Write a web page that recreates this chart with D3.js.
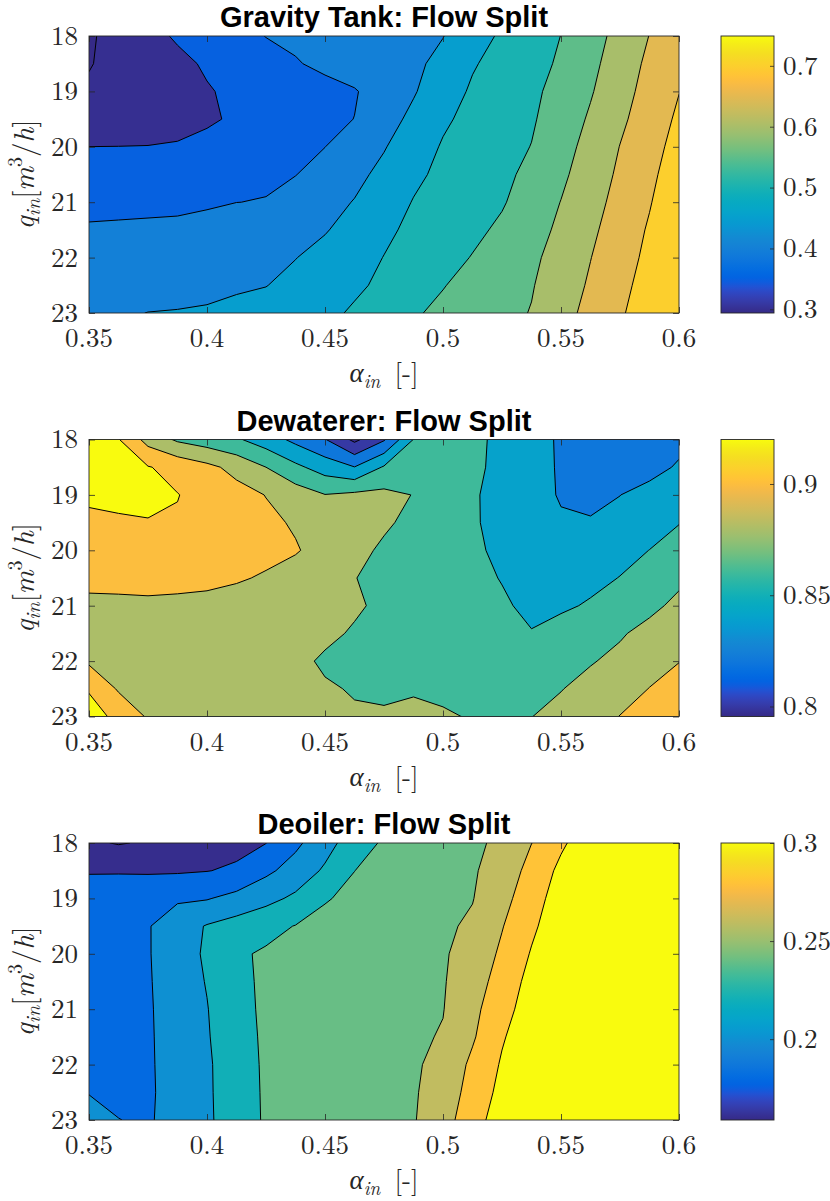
<!DOCTYPE html>
<html>
<head>
<meta charset="utf-8">
<script src="https://cdn.jsdelivr.net/npm/d3@7"></script>
<style>
  body { margin: 0; background: #fff; }
  svg { display: block; }
  .tex { font-family: "Latin Modern Roman", "Liberation Serif", serif; }
  .sans { font-family: "Liberation Sans", Arial, Helvetica, sans-serif; }
</style>
</head>
<body>
<svg id="fig" width="830" height="1201"></svg>
<script>
// ---- grid coordinates ----
const alphaIn = [0.35, 0.3625, 0.375, 0.3875, 0.4, 0.4125, 0.425, 0.4375, 0.45, 0.4625, 0.475,
                 0.4875, 0.5, 0.5125, 0.525, 0.5375, 0.55, 0.5625, 0.575, 0.5875, 0.6];
const qIn = [18, 18.5, 19, 19.5, 20, 20.5, 21, 21.5, 22, 22.5, 23];
const xTicks = [0.35, 0.4, 0.45, 0.5, 0.55, 0.6];
const yTicks = [18, 19, 20, 21, 22, 23];

// ---- Gravity tank flow split (rows follow qIn, columns follow alphaIn) ----
const gravitySplit = [
  [0.294,0.317,0.337,0.355,0.370,0.385,0.401,0.408,0.417,0.425,0.433,0.441,0.449,0.479,0.507,0.528,0.5505,0.581,0.615,0.651,0.688],
  [0.298,0.311,0.325,0.340,0.355,0.369,0.383,0.397,0.409,0.420,0.431,0.442,0.461,0.496,0.516,0.535,0.556,0.588,0.624,0.660,0.697],
  [0.305,0.316,0.326,0.337,0.347,0.358,0.367,0.377,0.387,0.397,0.419,0.446,0.478,0.506,0.523,0.541,0.565,0.596,0.632,0.667,0.699],
  [0.315,0.323,0.330,0.338,0.345,0.355,0.367,0.378,0.390,0.4005,0.431,0.461,0.493,0.513,0.529,0.545,0.573,0.606,0.641,0.674,0.708],
  [0.3502,0.3505,0.351,0.353,0.360,0.370,0.380,0.390,0.3996,0.423,0.447,0.477,0.504,0.519,0.535,0.551,0.583,0.615,0.651,0.682,0.717],
  [0.375,0.378,0.382,0.385,0.389,0.392,0.396,0.399,0.417,0.438,0.462,0.491,0.510,0.525,0.540,0.561,0.591,0.624,0.658,0.690,0.725],
  [0.390,0.391,0.392,0.394,0.397,0.3998,0.401,0.418,0.435,0.452,0.478,0.502,0.517,0.532,0.546,0.572,0.601,0.633,0.665,0.697,0.734],
  [0.404,0.405,0.406,0.406,0.408,0.418,0.428,0.438,0.447,0.467,0.491,0.510,0.525,0.540,0.558,0.582,0.609,0.641,0.673,0.705,0.738],
  [0.418,0.422,0.427,0.431,0.436,0.440,0.445,0.449,0.464,0.482,0.501,0.518,0.534,0.552,0.571,0.591,0.618,0.649,0.680,0.711,0.743],
  [0.430,0.433,0.436,0.440,0.443,0.446,0.449,0.462,0.477,0.492,0.509,0.529,0.548,0.565,0.581,0.597,0.625,0.656,0.688,0.717,0.746],
  [0.442,0.446,0.4505,0.4515,0.453,0.458,0.466,0.477,0.489,0.506,0.525,0.545,0.560,0.574,0.587,0.602,0.633,0.664,0.695,0.722,0.749]
];
const gravityLevels = [0.30, 0.35, 0.40, 0.45, 0.50, 0.55, 0.60, 0.65, 0.70];
const gravityCLim = [0.294, 0.749];
const gravityCbarTicks = [0.3, 0.4, 0.5, 0.6, 0.7];

// ---- Dewaterer flow split ----
const dewatererSplit = [
  [0.930,0.921,0.893,0.877,0.870,0.8625,0.850,0.835,0.821,0.7955,0.818,0.8605,0.865,0.864,0.856,0.846,0.838,0.834,0.832,0.832,0.835],
  [0.928,0.925,0.921,0.914,0.905,0.894,0.880,0.8644,0.851,0.8405,0.862,0.869,0.868,0.864,0.855,0.847,0.838,0.832,0.828,0.834,0.842],
  [0.930,0.928,0.925,0.9205,0.914,0.907,0.8995,0.890,0.8805,0.884,0.885,0.8795,0.870,0.862,0.854,0.847,0.8385,0.832,0.8398,0.846,0.851],
  [0.908,0.916,0.919,0.9185,0.912,0.908,0.904,0.898,0.893,0.8875,0.8823,0.876,0.869,0.8618,0.855,0.848,0.842,0.8425,0.845,0.852,0.8595],
  [0.908,0.909,0.910,0.910,0.908,0.906,0.904,0.9015,0.893,0.8845,0.8775,0.8725,0.8675,0.8625,0.857,0.851,0.848,0.8495,0.854,0.8602,0.866],
  [0.903,0.9035,0.9045,0.904,0.903,0.9015,0.8985,0.8922,0.8863,0.8804,0.8755,0.8705,0.8665,0.863,0.8595,0.854,0.852,0.855,0.8605,0.867,0.877],
  [0.8975,0.8975,0.8975,0.897,0.8965,0.894,0.892,0.889,0.886,0.882,0.877,0.8725,0.868,0.8645,0.8615,0.8575,0.857,0.862,0.8695,0.8765,0.8835],
  [0.892,0.8925,0.893,0.8925,0.892,0.891,0.889,0.886,0.883,0.8785,0.875,0.872,0.869,0.864,0.862,0.8605,0.8675,0.8725,0.8785,0.8845,0.890],
  [0.897,0.8945,0.8925,0.891,0.889,0.887,0.885,0.8835,0.878,0.8745,0.872,0.8705,0.870,0.870,0.8705,0.8725,0.8755,0.879,0.8835,0.8915,0.8995],
  [0.918,0.898,0.895,0.892,0.890,0.888,0.886,0.884,0.8815,0.879,0.8785,0.8795,0.8785,0.8755,0.8745,0.8765,0.8795,0.8845,0.891,0.9005,0.908],
  [0.930,0.914,0.898,0.895,0.893,0.891,0.889,0.887,0.885,0.8815,0.881,0.8812,0.8808,0.8795,0.8775,0.8798,0.884,0.891,0.9005,0.906,0.912]
];
const dewatererLevels = [0.80, 0.82, 0.84, 0.86, 0.88, 0.90, 0.92];
const dewatererCLim = [0.7955, 0.92];
const dewatererCbarTicks = [0.8, 0.85, 0.9];

// ---- Deoiler flow split ----
const deoilerSplit = [
  [0.163,0.1588,0.162,0.166,0.170,0.175,0.1797,0.196,0.2123,0.2307,0.2425,0.2471,0.2518,0.2565,0.2638,0.2798,0.2968,0.312,0.318,0.320,0.320],
  [0.1785,0.1785,0.178,0.178,0.1795,0.1825,0.196,0.2079,0.2229,0.2399,0.2444,0.2489,0.2534,0.2579,0.2687,0.2861,0.3046,0.312,0.318,0.320,0.320],
  [0.190,0.191,0.193,0.1975,0.1988,0.206,0.2142,0.2237,0.239,0.2431,0.2471,0.2512,0.2552,0.2593,0.2736,0.2914,0.3094,0.315,0.318,0.320,0.320],
  [0.192,0.1945,0.1988,0.2106,0.2213,0.228,0.2345,0.2406,0.2439,0.2472,0.2505,0.2539,0.2572,0.2627,0.279,0.2965,0.312,0.316,0.320,0.320,0.320],
  [0.193,0.195,0.1988,0.2104,0.2229,0.2375,0.2422,0.2449,0.2476,0.2503,0.253,0.2557,0.2583,0.2665,0.2835,0.3014,0.312,0.316,0.320,0.320,0.320],
  [0.193,0.195,0.1985,0.209,0.2211,0.2367,0.2422,0.245,0.2477,0.2505,0.2532,0.256,0.2587,0.2703,0.2885,0.306,0.314,0.318,0.320,0.320,0.320],
  [0.193,0.195,0.1983,0.2075,0.2192,0.2359,0.2422,0.245,0.2479,0.2508,0.2536,0.2565,0.2594,0.2747,0.2932,0.309,0.315,0.318,0.320,0.320,0.320],
  [0.193,0.195,0.1982,0.2067,0.2182,0.2347,0.2421,0.2451,0.2481,0.2511,0.2542,0.2572,0.2612,0.2777,0.2982,0.312,0.316,0.318,0.320,0.320,0.320],
  [0.196,0.196,0.1982,0.2059,0.2168,0.2334,0.242,0.2451,0.2483,0.2514,0.2546,0.2577,0.2653,0.2841,0.302,0.310,0.316,0.318,0.320,0.320,0.320],
  [0.1995,0.1975,0.198,0.2057,0.2167,0.2326,0.2419,0.2452,0.2484,0.2517,0.2549,0.2582,0.2686,0.2874,0.3055,0.312,0.316,0.318,0.320,0.320,0.320],
  [0.205,0.2002,0.1985,0.2055,0.2164,0.2319,0.2418,0.2452,0.2485,0.2519,0.2553,0.2587,0.272,0.2917,0.310,0.314,0.317,0.319,0.320,0.320,0.320]
];
const deoilerLevels = [0.16, 0.18, 0.20, 0.22, 0.24, 0.26, 0.28, 0.30];
const deoilerCLim = [0.1588, 0.30];
const deoilerCbarTicks = [0.2, 0.25, 0.3];

const panelTitles = ["Gravity Tank: Flow Split", "Dewaterer: Flow Split", "Deoiler: Flow Split"];

// ---- parula colour map ----
const parulaRGB = [
  [0.2081,0.1663,0.5292],[0.2116,0.1898,0.5777],[0.2123,0.2138,0.6270],[0.2081,0.2386,0.6771],
  [0.1959,0.2645,0.7279],[0.1707,0.2919,0.7792],[0.1253,0.3242,0.8303],[0.0591,0.3598,0.8683],
  [0.0117,0.3875,0.8820],[0.0060,0.4086,0.8828],[0.0165,0.4266,0.8786],[0.0329,0.4430,0.8720],
  [0.0498,0.4586,0.8641],[0.0629,0.4737,0.8554],[0.0723,0.4887,0.8467],[0.0779,0.5040,0.8384],
  [0.0793,0.5200,0.8312],[0.0749,0.5375,0.8263],[0.0641,0.5570,0.8240],[0.0488,0.5772,0.8228],
  [0.0343,0.5966,0.8199],[0.0265,0.6137,0.8135],[0.0239,0.6287,0.8038],[0.0231,0.6418,0.7913],
  [0.0228,0.6535,0.7768],[0.0267,0.6642,0.7607],[0.0384,0.6743,0.7436],[0.0590,0.6838,0.7254],
  [0.0843,0.6928,0.7062],[0.1133,0.7015,0.6859],[0.1453,0.7098,0.6646],[0.1801,0.7177,0.6424],
  [0.2178,0.7250,0.6193],[0.2586,0.7317,0.5954],[0.3022,0.7376,0.5712],[0.3482,0.7424,0.5473],
  [0.3953,0.7459,0.5244],[0.4420,0.7481,0.5033],[0.4871,0.7491,0.4840],[0.5300,0.7491,0.4661],
  [0.5709,0.7485,0.4494],[0.6099,0.7473,0.4337],[0.6473,0.7456,0.4188],[0.6834,0.7435,0.4044],
  [0.7184,0.7411,0.3905],[0.7525,0.7384,0.3768],[0.7858,0.7356,0.3633],[0.8185,0.7327,0.3498],
  [0.8507,0.7299,0.3360],[0.8824,0.7274,0.3217],[0.9139,0.7258,0.3063],[0.9450,0.7261,0.2886],
  [0.9739,0.7314,0.2666],[0.9938,0.7455,0.2403],[0.9990,0.7653,0.2164],[0.9955,0.7861,0.1967],
  [0.9880,0.8066,0.1794],[0.9789,0.8271,0.1633],[0.9697,0.8481,0.1475],[0.9626,0.8705,0.1309],
  [0.9589,0.8949,0.1132],[0.9598,0.9218,0.0948],[0.9661,0.9514,0.0755],[0.9763,0.9831,0.0538]
];
const parulaHex = parulaRGB.map(c => d3.rgb(c[0] * 255, c[1] * 255, c[2] * 255).formatHex());
const parula = d3.piecewise(d3.interpolateRgb, parulaHex);

// ---- layout ----
const plotLeft = 89, plotWidth = 590, plotHeight = 277;
const panelTops = [36, 439.5, 843];
const cbarLeft = 721, cbarWidth = 53;
const axisInk = "#262626";
const labelSize = 27;

const panels = [
  { values: gravitySplit, levels: gravityLevels, clim: gravityCLim, cticks: gravityCbarTicks },
  { values: dewatererSplit, levels: dewatererLevels, clim: dewatererCLim, cticks: dewatererCbarTicks },
  { values: deoilerSplit, levels: deoilerLevels, clim: deoilerCLim, cticks: deoilerCbarTicks }
];

const svg = d3.select("#fig");
const defs = svg.append("defs");

panels.forEach((p, i) => {
  const top = panelTops[i];
  const nx = alphaIn.length, ny = qIn.length;
  const x = d3.scaleLinear().domain([alphaIn[0], alphaIn[nx - 1]]).range([0, plotWidth]);
  const y = d3.scaleLinear().domain([qIn[0], qIn[ny - 1]]).range([0, plotHeight]);
  // grid-index space of d3.contours -> plot space (value i sits at i + 0.5)
  const gx = d3.scaleLinear().domain([0.5, nx - 0.5]).range([x(alphaIn[0]), x(alphaIn[nx - 1])]);
  const gy = d3.scaleLinear().domain([0.5, ny - 0.5]).range([y(qIn[0]), y(qIn[ny - 1])]);
  const path = d3.geoPath(d3.geoTransform({
    point(px, py) { this.stream.point(gx(px), gy(py)); }
  }));
  const norm = d3.scaleLinear().domain(p.clim).range([0, 1]).clamp(true);
  const colour = v => parula(norm(v));

  const bands = d3.contours().size([nx, ny]).thresholds(p.levels)(p.values.flat());

  const g = svg.append("g").attr("transform", `translate(${plotLeft},${top})`);

  defs.append("clipPath").attr("id", `plot-clip-${i}`)
    .append("rect").attr("width", plotWidth).attr("height", plotHeight);

  const body = g.append("g").attr("clip-path", `url(#plot-clip-${i})`);
  body.append("rect").attr("width", plotWidth).attr("height", plotHeight)
    .attr("fill", colour(p.clim[0]));
  body.selectAll("path.band").data(bands).join("path")
    .attr("class", "band")
    .attr("d", path)
    .attr("fill", d => colour(d.value));
  body.selectAll("path.iso").data(bands).join("path")
    .attr("class", "iso")
    .attr("d", path)
    .attr("fill", "none")
    .attr("stroke", "#000")
    .attr("stroke-width", 1)
    .attr("stroke-linejoin", "round");

  // ticks on all four sides, pointing inward
  const tickStyle = sel => {
    sel.select(".domain").remove();
    sel.selectAll(".tick line").attr("stroke", axisInk).attr("stroke-width", 0.8);
    sel.selectAll(".tick text").remove();
  };
  g.append("g").attr("transform", `translate(0,${plotHeight})`)
    .call(d3.axisBottom(x).tickValues(xTicks).tickSize(-6)).call(tickStyle);
  g.append("g").call(d3.axisTop(x).tickValues(xTicks).tickSize(-6)).call(tickStyle);
  g.append("g").call(d3.axisLeft(y).tickValues(yTicks).tickSize(-6)).call(tickStyle);
  g.append("g").attr("transform", `translate(${plotWidth},0)`)
    .call(d3.axisRight(y).tickValues(yTicks).tickSize(-6)).call(tickStyle);

  g.append("rect").attr("width", plotWidth).attr("height", plotHeight)
    .attr("fill", "none").attr("stroke", axisInk).attr("stroke-width", 0.9);

  // tick labels
  g.selectAll("text.xtick").data(xTicks).join("text")
    .attr("class", "xtick tex")
    .attr("x", d => x(d)).attr("y", plotHeight + 34)
    .attr("text-anchor", "middle")
    .attr("font-size", labelSize).attr("fill", axisInk)
    .text(d => String(d));
  g.selectAll("text.ytick").data(yTicks).join("text")
    .attr("class", "ytick tex")
    .attr("x", -11).attr("y", d => y(d)).attr("dy", "0.33em")
    .attr("text-anchor", "end")
    .attr("font-size", labelSize).attr("fill", axisInk)
    .text(d => String(d));

  // title
  g.append("text")
    .attr("class", "sans")
    .attr("x", plotWidth / 2).attr("y", -9)
    .attr("text-anchor", "middle")
    .attr("font-weight", "bold").attr("font-size", 29)
    .attr("fill", "#000")
    .text(panelTitles[i]);

  // x label: alpha_in [-]
  const xl = g.append("text")
    .attr("class", "tex")
    .attr("x", plotWidth / 2).attr("y", plotHeight + 69)
    .attr("text-anchor", "middle")
    .attr("font-size", labelSize).attr("fill", axisInk);
  xl.append("tspan").attr("font-style", "italic").text("α");
  xl.append("tspan").attr("font-style", "italic").attr("font-size", 19).attr("dy", 6).text("in");
  xl.append("tspan").attr("dy", -6).text("\u2009 [-]");

  // y label: q_in [m^3/h]
  const yl = g.append("text")
    .attr("class", "tex")
    .attr("transform", `translate(${34 - plotLeft},${plotHeight / 2}) rotate(-90)`)
    .attr("text-anchor", "middle")
    .attr("font-size", 29).attr("fill", axisInk);
  yl.append("tspan").attr("font-style", "italic").text("q");
  yl.append("tspan").attr("font-style", "italic").attr("font-size", 20).attr("dy", 6).text("in");
  yl.append("tspan").attr("dy", -6).text("[");
  yl.append("tspan").attr("font-style", "italic").text("m");
  yl.append("tspan").attr("font-size", 20).attr("dy", -12).text("3");
  yl.append("tspan").attr("dy", 12).text("/");
  yl.append("tspan").attr("font-style", "italic").text("h");
  yl.append("tspan").text("]");

  // colour bar
  const gradId = `cbar-grad-${i}`;
  const grad = defs.append("linearGradient").attr("id", gradId)
    .attr("x1", 0).attr("y1", 1).attr("x2", 0).attr("y2", 0);
  grad.selectAll("stop").data(parulaHex).join("stop")
    .attr("offset", (d, k) => k / (parulaHex.length - 1))
    .attr("stop-color", d => d);

  const cy = d3.scaleLinear().domain(p.clim).range([plotHeight, 0]);
  const cg = svg.append("g").attr("transform", `translate(${cbarLeft},${top})`);
  cg.append("rect").attr("width", cbarWidth).attr("height", plotHeight)
    .attr("fill", `url(#${gradId})`);
  cg.append("g").attr("transform", `translate(${cbarWidth},0)`)
    .call(d3.axisRight(cy).tickValues(p.cticks).tickSize(-4)).call(tickStyle);
  cg.append("rect").attr("width", cbarWidth).attr("height", plotHeight)
    .attr("fill", "none").attr("stroke", axisInk).attr("stroke-width", 0.9);
  cg.selectAll("text.ctick").data(p.cticks).join("text")
    .attr("class", "ctick tex")
    .attr("x", cbarWidth + 9).attr("y", d => cy(d)).attr("dy", "0.33em")
    .attr("font-size", labelSize).attr("fill", axisInk)
    .text(d => String(d));
});
</script>
</body>
</html>
